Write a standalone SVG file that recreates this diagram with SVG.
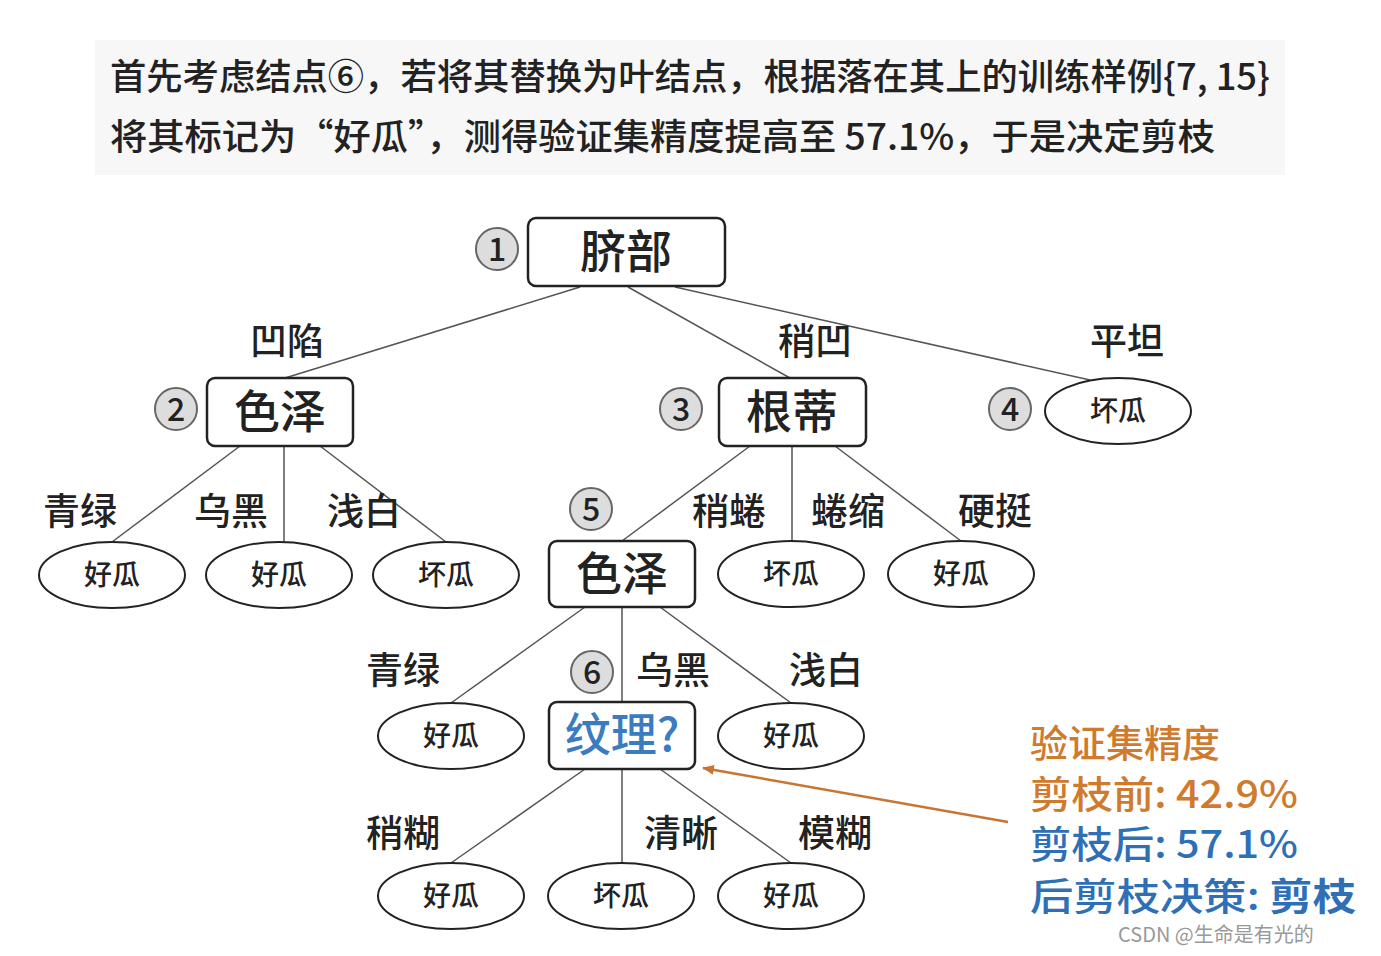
<svg xmlns="http://www.w3.org/2000/svg" width="1381" height="956" viewBox="0 0 1381 956">
<style>
text{font-family:"Noto Sans CJK SC","Liberation Sans",sans-serif;fill:#222;font-weight:500}
.hd{font-size:36px}
.box{fill:#fff;stroke:#222;stroke-width:2.5}
.big{font-size:46px;text-anchor:middle}
.leaf{fill:#fff;stroke:#222;stroke-width:2}
.lt{font-size:28px;text-anchor:middle}
.num{fill:#ddd;stroke:#666;stroke-width:2}
.nt{font-size:32px;text-anchor:middle}
.lab{font-size:37px;text-anchor:middle}
.ln{stroke:#555;stroke-width:1.5;fill:none}
.or{fill:#d07a2e;font-size:38px}
.bl{fill:#2f6fb5;font-size:38px}
</style>
<defs><marker id="ah" markerWidth="12" markerHeight="10" refX="11" refY="5" orient="auto" markerUnits="userSpaceOnUse"><path d="M0,0 L12,5 L0,10 z" fill="#c87533"/></marker></defs>
<rect width="1381" height="956" fill="#fff"/>
<rect x="95" y="40" width="1190" height="135" fill="#f7f7f7"/>
<text class="hd" x="110" y="90" textLength="1160" lengthAdjust="spacingAndGlyphs">首先考虑结点⑥，若将其替换为叶结点，根据落在其上的训练样例{7, 15}</text>
<text class="hd" x="110" y="150" textLength="1105" lengthAdjust="spacingAndGlyphs">将其标记为“好瓜”，测得验证集精度提高至 57.1%，于是决定剪枝</text>
<g id="connectors">
<line class="ln" x1="580" y1="287" x2="285" y2="378"/>
<line class="ln" x1="628" y1="287" x2="790" y2="378"/>
<line class="ln" x1="675" y1="287" x2="1090" y2="380"/>
<line class="ln" x1="240" y1="446" x2="112" y2="542"/>
<line class="ln" x1="284" y1="446" x2="284" y2="542"/>
<line class="ln" x1="320" y1="446" x2="446" y2="542"/>
<line class="ln" x1="750" y1="446" x2="622" y2="541"/>
<line class="ln" x1="792" y1="446" x2="792" y2="541"/>
<line class="ln" x1="835" y1="446" x2="961" y2="541"/>
<line class="ln" x1="585" y1="607" x2="451" y2="703"/>
<line class="ln" x1="622" y1="607" x2="622" y2="702"/>
<line class="ln" x1="660" y1="607" x2="791" y2="703"/>
<line class="ln" x1="585" y1="769" x2="451" y2="863"/>
<line class="ln" x1="622" y1="769" x2="622" y2="863"/>
<line class="ln" x1="660" y1="769" x2="791" y2="863"/>
<line x1="1008" y1="822" x2="703" y2="768" stroke="#c87533" stroke-width="2.5" marker-end="url(#ah)"/>
</g>
<g id="labels">
<text class="lab" x="287" y="355">凹陷</text><text class="lab" x="815" y="355">稍凹</text><text class="lab" x="1127" y="355">平坦</text>
<text class="lab" x="80" y="525">青绿</text><text class="lab" x="231" y="525">乌黑</text><text class="lab" x="364" y="525">浅白</text>
<text class="lab" x="729" y="525">稍蜷</text><text class="lab" x="848" y="525">蜷缩</text><text class="lab" x="995" y="525">硬挺</text>
<text class="lab" x="403" y="684">青绿</text><text class="lab" x="673" y="684">乌黑</text><text class="lab" x="826" y="684">浅白</text>
<text class="lab" x="403" y="847">稍糊</text><text class="lab" x="681" y="847">清晰</text><text class="lab" x="835" y="847">模糊</text>
</g>
<g id="n1"><rect class="box" x="528" y="218" width="197" height="68" rx="8"/><text class="big" x="626" y="268">脐部</text><circle class="num" cx="497" cy="249" r="21"/><text class="nt" x="497" y="261">1</text></g>
<g id="n2"><rect class="box" x="207" y="378" width="146" height="68" rx="8"/><text class="big" x="280" y="428">色泽</text><circle class="num" cx="176" cy="409" r="21"/><text class="nt" x="176" y="421">2</text></g>
<g id="n3"><rect class="box" x="719" y="378" width="147" height="68" rx="8"/><text class="big" x="792" y="428">根蒂</text><circle class="num" cx="681" cy="409" r="21"/><text class="nt" x="681" y="421">3</text></g>
<g id="n4"><ellipse class="leaf" cx="1118" cy="411" rx="73" ry="33"/><text class="lt" x="1118" y="421">坏瓜</text><circle class="num" cx="1010" cy="409" r="21"/><text class="nt" x="1010" y="421">4</text></g>
<g id="l1"><ellipse class="leaf" cx="112" cy="575" rx="73" ry="33"/><text class="lt" x="112" y="585">好瓜</text></g>
<g id="l2"><ellipse class="leaf" cx="279" cy="575" rx="73" ry="33"/><text class="lt" x="279" y="585">好瓜</text></g>
<g id="l3"><ellipse class="leaf" cx="446" cy="575" rx="73" ry="33"/><text class="lt" x="446" y="585">坏瓜</text></g>
<g id="n5"><rect class="box" x="549" y="541" width="146" height="66" rx="8"/><text class="big" x="622" y="590">色泽</text><circle class="num" cx="591" cy="509" r="21"/><text class="nt" x="591" y="521">5</text></g>
<g id="l4"><ellipse class="leaf" cx="791" cy="574" rx="73" ry="33"/><text class="lt" x="791" y="584">坏瓜</text></g>
<g id="l5"><ellipse class="leaf" cx="961" cy="574" rx="73" ry="33"/><text class="lt" x="961" y="584">好瓜</text></g>
<g id="l6"><ellipse class="leaf" cx="451" cy="736" rx="73" ry="33"/><text class="lt" x="451" y="746">好瓜</text></g>
<g id="n6"><rect class="box" x="549" y="702" width="146" height="67" rx="8"/><text class="big" x="622" y="751" style="fill:#3b7bbf">纹理?</text><circle class="num" cx="592" cy="672" r="21"/><text class="nt" x="592" y="684">6</text></g>
<g id="l7"><ellipse class="leaf" cx="791" cy="736" rx="73" ry="33"/><text class="lt" x="791" y="746">好瓜</text></g>
<g id="l8"><ellipse class="leaf" cx="451" cy="896" rx="73" ry="33"/><text class="lt" x="451" y="906">好瓜</text></g>
<g id="l9"><ellipse class="leaf" cx="621" cy="896" rx="73" ry="33"/><text class="lt" x="621" y="906">坏瓜</text></g>
<g id="l10"><ellipse class="leaf" cx="791" cy="896" rx="73" ry="33"/><text class="lt" x="791" y="906">好瓜</text></g>
<g id="note">
<text class="or" x="1030" y="757">验证集精度</text>
<text class="or" x="1030" y="808" textLength="268" lengthAdjust="spacingAndGlyphs">剪枝前: 42.9%</text>
<text class="bl" x="1030" y="858" textLength="268" lengthAdjust="spacingAndGlyphs">剪枝后: 57.1%</text>
<text class="bl" x="1030" y="910" textLength="326" lengthAdjust="spacingAndGlyphs">后剪枝决策: <tspan font-weight="bold" style="fill:#2f6fb5">剪枝</tspan></text>
</g>
<text x="1118" y="942" style="font-size:20px;fill:#999;font-weight:400">CSDN @生命是有光的</text>
</svg>
